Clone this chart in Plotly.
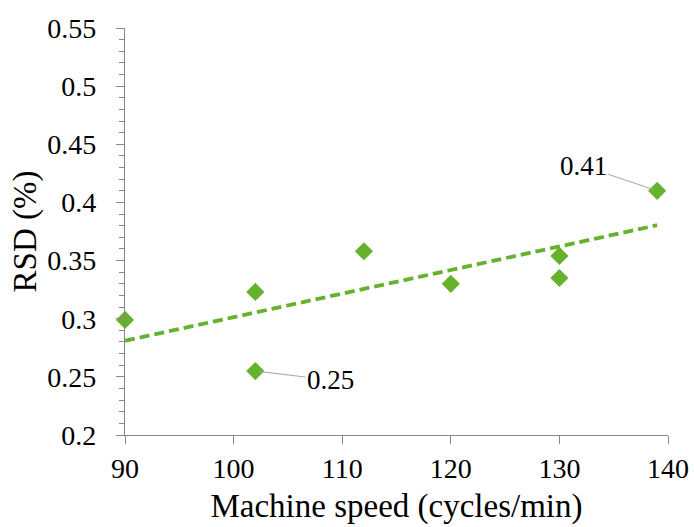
import numpy as np
import plotly.graph_objects as go

speed = [90, 102, 102, 112, 120, 130, 130, 139]
rsd = [0.299, 0.323, 0.255, 0.358, 0.330, 0.354, 0.335, 0.410]
x_ticks = [90, 100, 110, 120, 130, 140]
y_ticks = [0.2, 0.25, 0.3, 0.35, 0.4, 0.45, 0.5, 0.55]
y_tick_text = ["0.2", "0.25", "0.3", "0.35", "0.4", "0.45", "0.5", "0.55"]

GREEN = "#66B22C"
FONT = "Liberation Serif"
FS_TICK = 28
FS_TITLE = 33
FS_LABEL = 27

slope, intercept = np.polyfit(speed, rsd, 1)
tx = [min(speed), max(speed)]
ty = [slope * v + intercept for v in tx]

fig = go.Figure()
fig.add_trace(go.Scatter(x=tx, y=ty, mode="lines",
                         line=dict(color=GREEN, width=3.8, dash="10px,5px"),
                         hoverinfo="skip", showlegend=False, cliponaxis=False))
fig.add_trace(go.Scatter(x=speed, y=rsd, mode="markers",
                         marker=dict(symbol="diamond", size=14, color=GREEN),
                         showlegend=False, cliponaxis=False))

fig.add_annotation(x=139, y=0.41, text="0.41", showarrow=True, arrowhead=0,
                   arrowwidth=1, arrowcolor="#A6A6A6", ax=-74, ay=-25,
                   standoff=4, font=dict(family=FONT, size=FS_LABEL, color="black"))
fig.add_annotation(x=102, y=0.255, text="0.25", showarrow=True, arrowhead=0,
                   arrowwidth=1, arrowcolor="#A6A6A6", ax=75, ay=9,
                   standoff=4, font=dict(family=FONT, size=FS_LABEL, color="black"))

axis_common = dict(showline=True, linecolor="#888888", linewidth=1.3,
                   ticks="outside", tickcolor="#888888", ticklen=8, tickwidth=1.3,
                   showgrid=False, zeroline=False, automargin=False,
                   tickfont=dict(family=FONT, size=FS_TICK, color="black"))

fig.update_xaxes(range=[90, 140], tickvals=x_ticks,
                 title=dict(text="Machine speed (cycles/min)",
                            font=dict(family=FONT, size=FS_TITLE, color="black"), standoff=11),
                 **axis_common)
fig.update_yaxes(range=[0.2, 0.55], tickvals=y_ticks, ticktext=y_tick_text,
                 ticklabelstandoff=14,
                 minor=dict(ticks="outside", ticklen=5, dtick=0.01, tickcolor="#888888",
                            tickwidth=1.3),
                 title=dict(text="RSD (%)",
                            font=dict(family=FONT, size=FS_TITLE, color="black"), standoff=0),
                 **axis_common)

fig.update_layout(width=694, height=527, margin=dict(l=125, r=26, t=28, b=92),
                  plot_bgcolor="white", paper_bgcolor="white",
                  font=dict(family=FONT))

fig.write_html("out.html")
